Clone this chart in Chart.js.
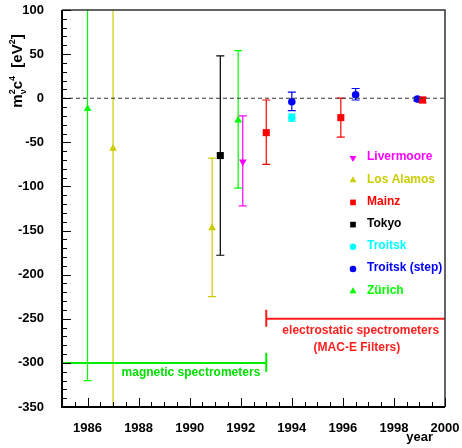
<!DOCTYPE html>
<html>
<head>
<meta charset="utf-8">
<script src="https://cdn.jsdelivr.net/npm/chart.js@4.4.0/dist/chart.umd.min.js"></script>
<style>
  html, body { margin: 0; padding: 0; background: #fff; }
  #wrap { width: 462px; height: 448px; }
</style>
</head>
<body>
<div id="wrap"><canvas id="myChart" width="462" height="448"></canvas></div>
<script>
// axis ticks
var xTicks = [1986, 1988, 1990, 1992, 1994, 1996, 1998, 2000];
var yTicks = [100, 50, 0, -50, -100, -150, -200, -250, -300, -350];

// measurements: year, m^2 value, lower / upper end of error bar
var zurichX = [1986.0, 1991.9];
var zurichY = [-12, -25];
var zurichLo = [-320, -102];
var zurichHi = [290, 54];

var losAlamosX = [1987.0, 1990.88];
var losAlamosY = [-57, -147];
var losAlamosLo = [-520, -225];
var losAlamosHi = [400, -68];

var livermooreX = [1992.08];
var livermooreY = [-72];
var livermooreLo = [-122];
var livermooreHi = [-20];

var tokyoX = [1991.2];
var tokyoY = [-65];
var tokyoLo = [-178];
var tokyoHi = [48];

var mainzX = [1993.0, 1995.92, 1999.12];
var mainzY = [-39, -22, -2];
var mainzLo = [-75, -44, -5];
var mainzHi = [-2, 0, 1];

var troitskX = [1994.0];
var troitskY = [-22];
var troitskLo = [-26];
var troitskHi = [-18];

var troitskStepX = [1994.0, 1996.5, 1998.92];
var troitskStepY = [-4, 4, -1];
var troitskStepLo = [-14, -2, -3];
var troitskStepHi = [7, 11, 1];

// spectrometer eras
var magneticYears = [1985, 1993];
var magneticLevel = -300;
var electroYears = [1993, 2000];
var electroLevel = -250;

var FONT = "'Liberation Sans', Arial, sans-serif";

function points(xs, ys, lo, hi) {
    return xs.map(function (x, i) {
        return { x: x, y: ys[i], lo: lo[i], hi: hi[i] };
    });
}

function series(label, color, style, radius, xs, ys, lo, hi, rotation) {
    return {
        label: label,
        data: points(xs, ys, lo, hi),
        backgroundColor: color,
        borderColor: color,
        errColor: color,
        pointStyle: style,
        pointRadius: radius,
        pointHoverRadius: radius,
        borderWidth: 0,
        rotation: rotation || 0,
        showLine: false,
        legend: true
    };
}

function segment(xs, level, color, dash, width) {
    return {
        data: xs.map(function (x) { return { x: x, y: level }; }),
        borderColor: color,
        borderWidth: width,
        borderDash: dash,
        showLine: true,
        pointRadius: 0,
        pointHoverRadius: 0,
        fill: false,
        legend: false
    };
}

var datasets = [
    segment([1985, 2000], 0, '#333', [4, 3], 1),
    segment(magneticYears, magneticLevel, '#00ee00', [], 2),
    segment(electroYears, electroLevel, '#ff1a1a', [], 2),
    series('Livermoore', '#ff00ff', 'triangle', 4.5, livermooreX, livermooreY, livermooreLo, livermooreHi, 180),
    series('Los Alamos', '#cccc00', 'triangle', 4.5, losAlamosX, losAlamosY, losAlamosLo, losAlamosHi),
    series('Mainz', '#ff0000', 'rect', 5, mainzX, mainzY, mainzLo, mainzHi),
    series('Tokyo', '#000000', 'rect', 5, tokyoX, tokyoY, tokyoLo, tokyoHi),
    series('Troitsk', '#00ffff', 'circle', 3.8, troitskX, troitskY, troitskLo, troitskHi),
    series('Troitsk (step)', '#0000ff', 'circle', 3.8, troitskStepX, troitskStepY, troitskStepLo, troitskStepHi),
    series('Zürich', '#00ff00', 'triangle', 4.5, zurichX, zurichY, zurichLo, zurichHi)
];

function noPad(scale) {
    scale.paddingTop = 0;
    scale.paddingBottom = 0;
    scale.paddingLeft = 0;
    scale.paddingRight = 0;
}

// error bars, frame, inner ticks, legend and labels
var decorations = {
    id: 'decorations',
    beforeDatasetsDraw: function (chart) {
        var ctx = chart.ctx, xs = chart.scales.x, ys = chart.scales.y, a = chart.chartArea;
        ctx.save();
        ctx.beginPath();
        ctx.rect(a.left, a.top, a.right - a.left, a.bottom - a.top);
        ctx.clip();
        chart.data.datasets.forEach(function (ds) {
            if (!ds.legend) return;
            ctx.strokeStyle = ds.errColor;
            ctx.lineWidth = 1.2;
            ds.data.forEach(function (p) {
                var px = xs.getPixelForValue(p.x);
                var top = ys.getPixelForValue(p.hi), bot = ys.getPixelForValue(p.lo);
                ctx.beginPath();
                ctx.moveTo(px, top); ctx.lineTo(px, bot);
                ctx.moveTo(px - 4, top); ctx.lineTo(px + 4, top);
                ctx.moveTo(px - 4, bot); ctx.lineTo(px + 4, bot);
                ctx.stroke();
            });
        });
        ctx.restore();
    },
    afterDatasetsDraw: function (chart) {
        var ctx = chart.ctx, xs = chart.scales.x, ys = chart.scales.y, a = chart.chartArea;
        ctx.save();

        // end marks of the era lines
        ctx.lineWidth = 2;
        ctx.strokeStyle = '#00ee00';
        var mx = xs.getPixelForValue(magneticYears[1]), my = ys.getPixelForValue(magneticLevel);
        ctx.beginPath(); ctx.moveTo(mx, my - 10); ctx.lineTo(mx, my + 9); ctx.stroke();
        ctx.strokeStyle = '#ff1a1a';
        var ex = xs.getPixelForValue(electroYears[0]), ey = ys.getPixelForValue(electroLevel);
        ctx.beginPath(); ctx.moveTo(ex, ey - 9); ctx.lineTo(ex, ey + 8); ctx.stroke();

        // frame
        ctx.strokeStyle = '#333';
        ctx.lineWidth = 1.5;
        ctx.beginPath();
        ctx.moveTo(a.left, a.top); ctx.lineTo(a.right, a.top); ctx.lineTo(a.right, a.bottom);
        ctx.stroke();
        ctx.strokeStyle = '#000';
        ctx.lineWidth = 2;
        ctx.beginPath();
        ctx.moveTo(a.left, a.top); ctx.lineTo(a.left, a.bottom); ctx.lineTo(a.right, a.bottom);
        ctx.stroke();

        // inner ticks
        ctx.lineWidth = 1;
        ctx.beginPath();
        for (var v = -350; v <= 100; v += 10) {
            var py = Math.round(ys.getPixelForValue(v)) + 0.5;
            var len = (v % 50 === 0) ? 9 : 5;
            ctx.moveTo(a.left, py); ctx.lineTo(a.left + len, py);
        }
        for (var t = 1985; t <= 2000; t += 0.5) {
            var px = Math.round(xs.getPixelForValue(t)) + 0.5;
            var l2 = (t % 2 === 0) ? 9 : 5;
            ctx.moveTo(px, a.bottom); ctx.lineTo(px, a.bottom - l2);
        }
        ctx.stroke();

        // legend
        ctx.font = 'bold 12px ' + FONT;
        ctx.textBaseline = 'middle';
        var row = 0;
        chart.data.datasets.forEach(function (ds) {
            if (!ds.legend) return;
            var y = 157 + row * 22.2;
            ctx.fillStyle = ds.backgroundColor;
            Chart.helpers.drawPoint(ctx, {
                pointStyle: ds.pointStyle, rotation: ds.rotation,
                radius: ds.pointStyle === 'circle' ? 3.3 : 4, borderWidth: 0
            }, 353, y + 1);
            ctx.fillText(ds.label, 367, y);
            row++;
        });

        // era labels
        ctx.textAlign = 'center';
        ctx.fillStyle = '#00dd00';
        ctx.fillText('magnetic spectrometers', xs.getPixelForValue(1990.05), ys.getPixelForValue(-311));
        ctx.fillStyle = '#ff2020';
        ctx.fillText('electrostatic spectrometers', xs.getPixelForValue(1996.7), ys.getPixelForValue(-263));
        ctx.fillText('(MAC-E Filters)', xs.getPixelForValue(1996.55), ys.getPixelForValue(-283));

        // axis titles
        ctx.fillStyle = '#000';
        ctx.font = 'bold 13px ' + FONT;
        ctx.textAlign = 'right';
        ctx.fillText('year', 433, 437);

        ctx.translate(22, 71);
        ctx.rotate(-Math.PI / 2);
        var big = 'bold 15px ' + FONT, small = 'bold 9px ' + FONT;
        var parts = [
            ['m', big, 0], ['ν', small, 4, 'sub'], ['c', big, 0], ['4', small, -7],
            ['  [eV', big, 0], ['2', small, -7], [']', big, 0]
        ];
        var w = 0;
        parts.forEach(function (p) { ctx.font = p[1]; w += ctx.measureText(p[0]).width; });
        var x0 = -w / 2;
        ctx.textAlign = 'left';
        ctx.textBaseline = 'alphabetic';
        parts.forEach(function (p) {
            ctx.font = p[1];
            ctx.fillText(p[0], x0, p[2]);
            if (p[3] === 'sub') ctx.fillText('2', x0, -7);
            x0 += ctx.measureText(p[0]).width;
        });
        ctx.restore();
    }
};

var ctx = document.getElementById('myChart').getContext('2d');
var myChart = new Chart(ctx, {
    type: 'scatter',
    data: { datasets: datasets },
    options: {
        responsive: false,
        animation: false,
        layout: { padding: { top: 10, right: 17, left: 0, bottom: 0 } },
        plugins: { legend: { display: false }, tooltip: { enabled: false } },
        scales: {
            x: {
                type: 'linear', min: 1985, max: 2000,
                afterBuildTicks: function (scale) {
                    scale.ticks = xTicks.map(function (v) { return { value: v }; });
                },
                afterFit: function (scale) { scale.height = 41; noPad(scale); },
                grid: { display: false },
                border: { display: false },
                ticks: {
                    color: '#000', padding: 6, maxRotation: 0,
                    callback: function (v) { return String(v); },
                    font: { family: FONT, size: 13, weight: 'bold' }
                }
            },
            y: {
                type: 'linear', min: -350, max: 100,
                afterBuildTicks: function (scale) {
                    scale.ticks = yTicks.map(function (v) { return { value: v }; });
                },
                afterFit: function (scale) { scale.width = 62; noPad(scale); },
                grid: { display: false },
                border: { display: false },
                ticks: {
                    color: '#000', padding: 10,
                    callback: function (v) { return String(v); },
                    font: { family: FONT, size: 13, weight: 'bold' }
                }
            }
        }
    },
    plugins: [decorations]
});
</script>
</body>
</html>
